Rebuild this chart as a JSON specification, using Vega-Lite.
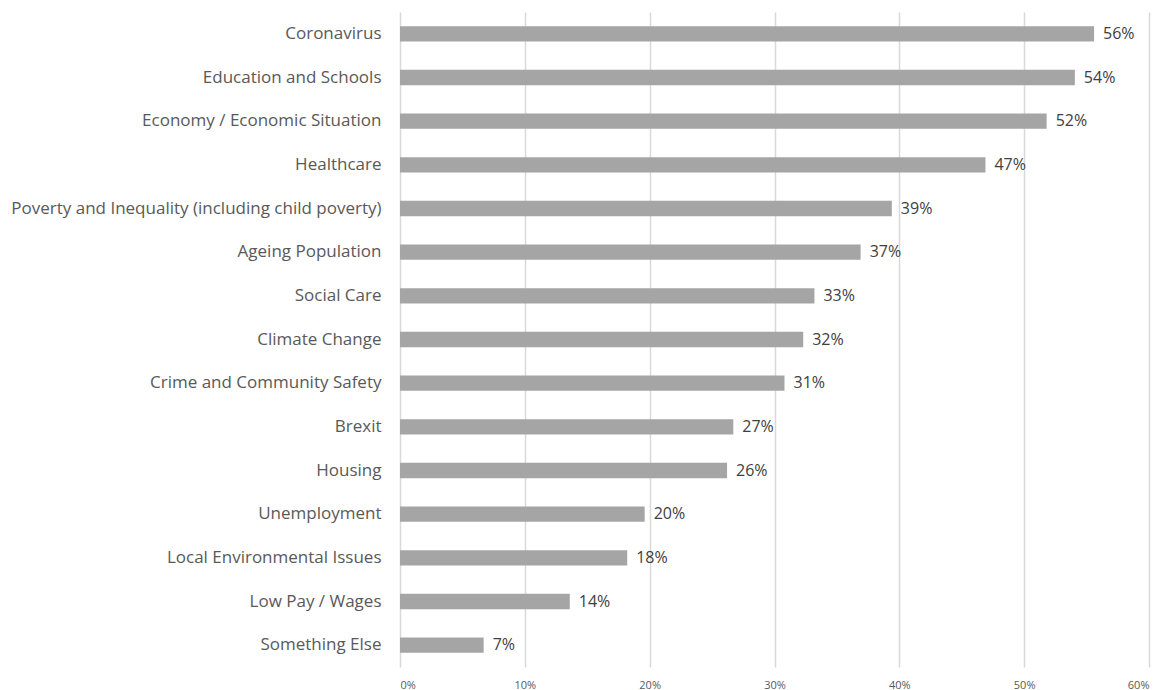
{
  "$schema": "https://vega.github.io/schema/vega-lite/v6.json",
  "width": 749,
  "height": 655,
  "autosize": {"type": "none"},
  "padding": {"left": 400, "top": 12, "right": 18, "bottom": 23},
  "background": "white",
  "data": {
    "values": [
      {"issue": "Coronavirus", "share": 0.556},
      {"issue": "Education and Schools", "share": 0.5406},
      {"issue": "Economy / Economic Situation", "share": 0.518},
      {"issue": "Healthcare", "share": 0.469},
      {"issue": "Poverty and Inequality (including child poverty)", "share": 0.394},
      {"issue": "Ageing Population", "share": 0.369},
      {"issue": "Social Care", "share": 0.332},
      {"issue": "Climate Change", "share": 0.323},
      {"issue": "Crime and Community Safety", "share": 0.308},
      {"issue": "Brexit", "share": 0.267},
      {"issue": "Housing", "share": 0.262},
      {"issue": "Unemployment", "share": 0.196},
      {"issue": "Local Environmental Issues", "share": 0.182},
      {"issue": "Low Pay / Wages", "share": 0.136},
      {"issue": "Something Else", "share": 0.067}
    ]
  },
  "encoding": {
    "y": {
      "field": "issue",
      "type": "nominal",
      "sort": null,
      "title": null,
      "scale": {"paddingInner": 0.65, "paddingOuter": 0.325},
      "axis": {
        "domain": false,
        "ticks": false,
        "labelPadding": 19,
        "labelFont": "Open Sans",
        "labelFontSize": 17,
        "labelColor": "#595959",
        "labelLimit": 500
      }
    },
    "x": {
      "field": "share",
      "type": "quantitative",
      "title": null,
      "scale": {"domain": [0, 0.6], "nice": false},
      "axis": {
        "format": ".0%",
        "values": [0, 0.1, 0.2, 0.3, 0.4, 0.5, 0.6],
        "domain": false,
        "ticks": false,
        "grid": true,
        "gridColor": "#d9d9d9",
        "gridWidth": 1.5,
        "labelPadding": 12,
        "labelFont": "Open Sans",
        "labelFontSize": 11,
        "labelColor": "#595959"
      }
    }
  },
  "layer": [
    {"mark": {"type": "bar", "color": "#a5a5a5"}},
    {
      "mark": {"type": "text", "align": "left", "baseline": "middle", "dx": 9, "font": "Open Sans", "fontSize": 16, "color": "#404040"},
      "encoding": {"text": {"field": "share", "type": "quantitative", "format": ".0%"}}
    }
  ],
  "config": {"view": {"stroke": null}}
}
